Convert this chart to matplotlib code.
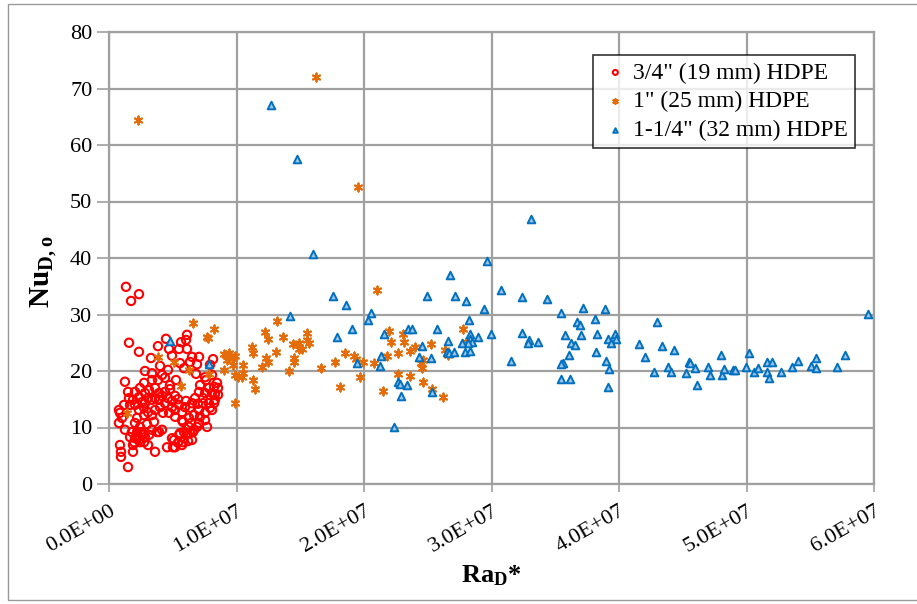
import numpy as np
import matplotlib
matplotlib.use("Agg")
import matplotlib.pyplot as plt
from matplotlib.patches import Rectangle

plt.rcParams['font.family'] = ['Liberation Serif', 'DejaVu Serif']
plt.rcParams['mathtext.fontset'] = 'custom'
plt.rcParams['mathtext.rm'] = 'Liberation Serif'
plt.rcParams['mathtext.bf'] = 'Liberation Serif:bold'

# Ra values in millions, Nu values
red_ra = [1.33, 2.35, 1.73, 1.57, 2.35, 3.29, 3.84, 4.47, 4.71, 4.94, 5.49, 5.65, 6.12, 6.04, 6.12, 6.51,
          7.06, 6.90, 4.0, 2.82, 6.82, 7.61, 1.25, 7.84, 8.31, 8.24, 7.92, 7.37, 1.49, 1.65, 0.86, 0.78,
          1.25, 0.86, 0.94, 0.94, 1.49, 1.88, 3.61, 4.55, 5.02, 5.41, 5.80, 6.20, 4.94, 5.57, 6.12, 6.59,
          6.90, 7.69, 5.80, 6.43, 3.92, 2.67, 2.20, 2.04, 2.43, 1.88, 3.37, 4.16, 2.75, 3.37, 4.39, 4.78,
          5.57, 5.88, 6.35, 7.53, 8.08, 8.47, 1.57, 0.78, 1.02, 2.04, 2.35, 2.82, 3.14, 3.61, 3.92, 4.39,
          4.78, 2.82, 3.37, 3.92, 4.39, 2.04, 2.35, 2.75, 2.20, 2.04, 3.37, 3.53, 2.75, 4.94, 5.18, 5.49,
          5.73, 5.96, 6.51, 6.75, 7.06, 7.53, 8.08, 8.24, 7.84, 8.08, 7.53, 7.06, 6.67, 6.27, 5.73, 5.18,
          4.71, 7.06, 6.67, 6.27, 4.16, 3.76, 3.37, 1.80, 2.20, 2.59, 2.82, 2.35, 1.96, 2.75, 3.14, 5.10,
          5.49, 5.88, 6.35, 5.18, 5.73, 6.51, 3.61, 4.16, 4.63, 5.18, 4.94, 3.06, 2.59, 4.0, 3.61, 3.06,
          4.23, 5.41, 6.04, 6.35, 6.98, 7.37, 3.84, 2.43, 1.88, 1.18, 2.98, 2.43, 1.65, 3.06, 7.14, 7.53,
          8.31, 8.55, 5.25, 4.63, 7.14, 7.92, 8.55, 8.16]
red_nu = [34.9, 33.6, 32.4, 25.0, 23.4, 22.3, 24.4, 25.7, 23.9, 22.7, 23.9, 25.1, 26.4, 25.5, 23.9, 22.5,
          22.5, 21.2, 20.9, 20.0, 19.5, 18.4, 18.1, 17.0, 15.9, 14.3, 13.5, 14.3, 16.3, 14.0, 12.6, 10.8,
          9.6, 6.9, 5.7, 4.8, 3.0, 5.7, 5.7, 6.5, 6.5, 7.3, 7.4, 7.6, 8.1, 9.0, 9.0, 9.2,
          10.1, 10.1, 11.0, 10.8, 9.2, 8.7, 9.2, 8.1, 7.4, 6.9, 19.6, 19.3, 17.9, 18.4, 18.8, 17.5,
          21.4, 20.5, 21.6, 18.9, 19.3, 17.9, 15.2, 13.1, 11.7, 16.3, 15.4, 16.1, 16.6, 17.0, 16.1, 16.3,
          16.8, 14.3, 14.9, 14.9, 14.3, 14.0, 13.1, 13.5, 11.7, 10.8, 12.2, 11.0, 12.2, 13.6, 13.1, 14.0,
          12.7, 13.6, 14.3, 15.2, 16.3, 16.1, 16.1, 17.2, 14.3, 13.1, 12.6, 13.1, 12.2, 11.7, 11.3, 11.9,
          12.6, 10.8, 9.6, 10.1, 9.6, 9.2, 9.6, 9.2, 8.7, 9.2, 8.3, 7.8, 7.4, 7.4, 8.7, 7.8,
          8.7, 9.2, 9.0, 6.5, 6.9, 7.8, 15.2, 15.6, 15.2, 15.6, 14.7, 15.2, 14.5, 13.6, 13.1, 12.7,
          12.6, 15.0, 14.7, 13.5, 14.2, 15.2, 18.4, 17.0, 14.9, 14.0, 10.6, 10.1, 8.3, 6.9, 11.9, 11.3,
          14.9, 15.8, 18.4, 20.2, 17.5, 21.1, 17.0, 22.1]

orange_ra = [2.27, 16.24, 19.53, 21.02, 13.18, 8.24, 7.69, 12.24, 12.47, 13.65, 15.53, 15.53, 15.69, 14.43,
             14.90, 14.90, 15.14, 11.22, 11.29, 13.10, 12.31, 12.47, 14.51, 14.51, 9.02, 9.41, 9.73, 9.25,
             9.73, 10.51, 9.02, 9.88, 10.12, 10.43, 10.51, 12.0, 11.29, 11.45, 9.88, 14.12, 16.63, 18.51,
             19.22, 19.37, 17.73, 19.92, 20.78, 21.96, 22.12, 21.80, 22.67, 18.12, 19.69, 21.49, 23.06,
             23.14, 23.61, 24.0, 25.25, 27.76, 28.0, 26.35, 26.59, 24.47, 24.55, 24.63, 22.67, 23.61,
             24.63, 25.33, 26.20, 6.59, 7.76, 3.84, 5.10, 6.27, 7.84, 5.65, 1.41, 9.18, 9.88]
orange_nu = [64.4, 72.0, 52.6, 34.3, 28.8, 27.4, 26.0, 26.9, 25.7, 26.0, 26.7, 25.5, 25.0, 24.8,
             25.0, 23.9, 23.9, 24.2, 23.2, 23.4, 22.3, 21.6, 22.3, 21.6, 23.0, 23.2, 22.3, 21.9,
             21.1, 21.1, 20.2, 19.3, 18.9, 18.9, 19.6, 20.7, 18.4, 16.8, 14.3, 20.0, 20.5, 23.2,
             22.7, 22.1, 21.6, 21.6, 21.4, 27.1, 25.1, 22.7, 23.2, 17.2, 18.9, 16.5, 26.5,
             25.1, 23.5, 24.2, 24.8, 27.4, 25.1, 23.7, 22.8, 21.4, 20.5, 21.9, 19.5, 19.1,
             18.1, 16.8, 15.4, 28.5, 25.8, 22.5, 21.6, 20.2, 19.5, 17.3, 12.6, 22.8, 22.7]

blue_ra = [12.71, 14.75, 16.0, 14.20, 17.57, 18.59, 19.06, 20.55, 20.31, 17.88, 21.57, 21.33, 21.25, 19.45,
           7.84, 4.78, 22.67, 22.35, 33.10, 29.65, 26.75, 24.94, 27.14, 28.0, 29.41, 30.75, 32.39, 34.35,
           35.45, 37.18, 38.90, 36.71, 36.94, 38.12, 28.24, 23.45, 23.76, 25.73, 29.96, 32.39, 32.94, 32.86,
           33.65, 35.76, 37.02, 38.27, 39.69, 39.76, 39.14, 39.37, 36.24, 36.55, 36.08, 35.61, 35.45, 38.20,
           38.98, 39.22, 39.14, 35.45, 36.16, 31.53, 28.31, 28.31, 28.47, 28.16, 28.94, 27.69, 27.92, 28.31,
           26.59, 26.51, 26.67, 27.06, 24.55, 24.31, 25.25, 22.82, 23.37, 22.90, 25.33, 59.53, 42.98, 41.57,
           43.37, 44.31, 42.04, 45.49, 45.57, 43.84, 44.08, 42.75, 45.25, 45.96, 46.12, 46.98, 47.14, 48.0,
           48.08, 48.24, 48.94, 49.10, 49.96, 50.20, 50.59, 50.90, 51.61, 52.0, 51.61, 51.76, 52.71, 53.57,
           54.04, 55.06, 55.45, 55.45, 57.10, 57.73]
blue_nu = [67.1, 57.5, 40.7, 29.7, 33.3, 31.7, 27.4, 30.3, 29.0, 26.0, 26.5, 22.7, 20.9, 21.4,
           21.2, 25.3, 18.1, 10.1, 46.9, 39.5, 37.0, 33.3, 33.3, 32.4, 31.0, 34.3, 33.1, 32.7,
           30.3, 31.2, 31.0, 28.7, 28.1, 29.2, 29.0, 27.4, 27.4, 27.4, 26.5, 26.7, 25.5, 25.0,
           25.1, 26.4, 26.4, 26.5, 26.5, 25.7, 25.7, 25.0, 25.0, 24.6, 22.8, 21.4, 21.2, 23.4,
           21.8, 20.4, 17.2, 18.6, 18.6, 21.8, 26.5, 25.7, 25.1, 25.0, 26.0, 25.0, 23.4, 23.5,
           25.3, 23.4, 23.2, 23.4, 24.4, 22.5, 22.3, 17.7, 17.5, 15.6, 16.3, 30.1, 28.7, 24.8,
           24.4, 23.7, 22.5, 21.6, 21.4, 20.7, 19.8, 19.8, 19.6, 20.5, 17.5, 20.7, 19.3, 22.8,
           19.3, 20.4, 20.2, 20.2, 20.7, 23.2, 19.8, 20.5, 21.6, 21.6, 19.8, 18.8, 19.8, 20.7,
           21.8, 20.9, 22.3, 20.5, 20.7, 22.8]

series_labels = ['3/4" (19 mm) HDPE', '1" (25 mm) HDPE', '1-1/4" (32 mm) HDPE']
x_ticks = [0, 1e7, 2e7, 3e7, 4e7, 5e7, 6e7]
x_tick_labels = ['0.0E+00', '1.0E+07', '2.0E+07', '3.0E+07', '4.0E+07', '5.0E+07', '6.0E+07']
y_ticks = [0, 10, 20, 30, 40, 50, 60, 70, 80]

fig = plt.figure(figsize=(9.17, 6.04), dpi=100)
ax = fig.add_axes([109/917, 1-484/604, (874-109)/917, (484-32)/604])

fig.patches.append(Rectangle((8/917, 4/604), 1.0, 1-8/604, transform=fig.transFigure,
                             fill=False, edgecolor='#9a9a9a', linewidth=1.0))

grid_c = '#a0a0a0'
ax.scatter(np.array(red_ra)*1e6, red_nu, s=36, marker='o', facecolors='none',
           edgecolors='#ff0000', linewidths=1.5, label=series_labels[0], zorder=3)
asterisk = (6, 2, 0)
ax.scatter(np.array(orange_ra)*1e6, orange_nu, s=34, marker=asterisk, color='#e46c0a',
           linewidths=1.4, label=series_labels[1], zorder=3)
ax.scatter(np.array(blue_ra)*1e6, blue_nu, s=30, marker='^', facecolors='#9dc3e6',
           edgecolors='#0070c0', linewidths=1.4, label=series_labels[2], zorder=3)

ax.set_xlim(0, 6e7)
ax.set_ylim(0, 80)
ax.set_xticks(x_ticks)
ax.set_xticklabels(x_tick_labels, rotation=30, ha='right', rotation_mode='anchor', fontsize=16)
ax.set_yticks(y_ticks)
ax.tick_params(axis='y', labelsize=16, length=9, color=grid_c, width=1.2, pad=3)
ax.tick_params(axis='x', length=6, color=grid_c, width=1.2, pad=7)
ax.grid(True, color=grid_c, linewidth=1.6, zorder=0)
ax.set_axisbelow(True)
for side in ['left', 'bottom', 'right', 'top']:
    ax.spines[side].set_color(grid_c)
    ax.spines[side].set_linewidth(1.6)

ax.set_ylabel(r'$\mathbf{Nu_{D,o}}$', fontsize=21)
ax.yaxis.set_label_coords(-50/765, (484-272)/452)
ax.set_xlabel(r'$\mathbf{Ra_D}$' + '*', fontsize=19, fontweight='bold')
ax.xaxis.set_label_coords(0.5, -(563-484)/452)

leg = ax.legend(loc='upper right', bbox_to_anchor=((855-109)/765, (484-55)/452), fontsize=17,
                frameon=True, fancybox=False, edgecolor='black', handletextpad=0.1,
                borderpad=0.3, labelspacing=0.3, markerscale=0.6, handlelength=1.3,
                borderaxespad=0)
leg.get_frame().set_linewidth(1.2)

fig.savefig('out.png', dpi=100)
